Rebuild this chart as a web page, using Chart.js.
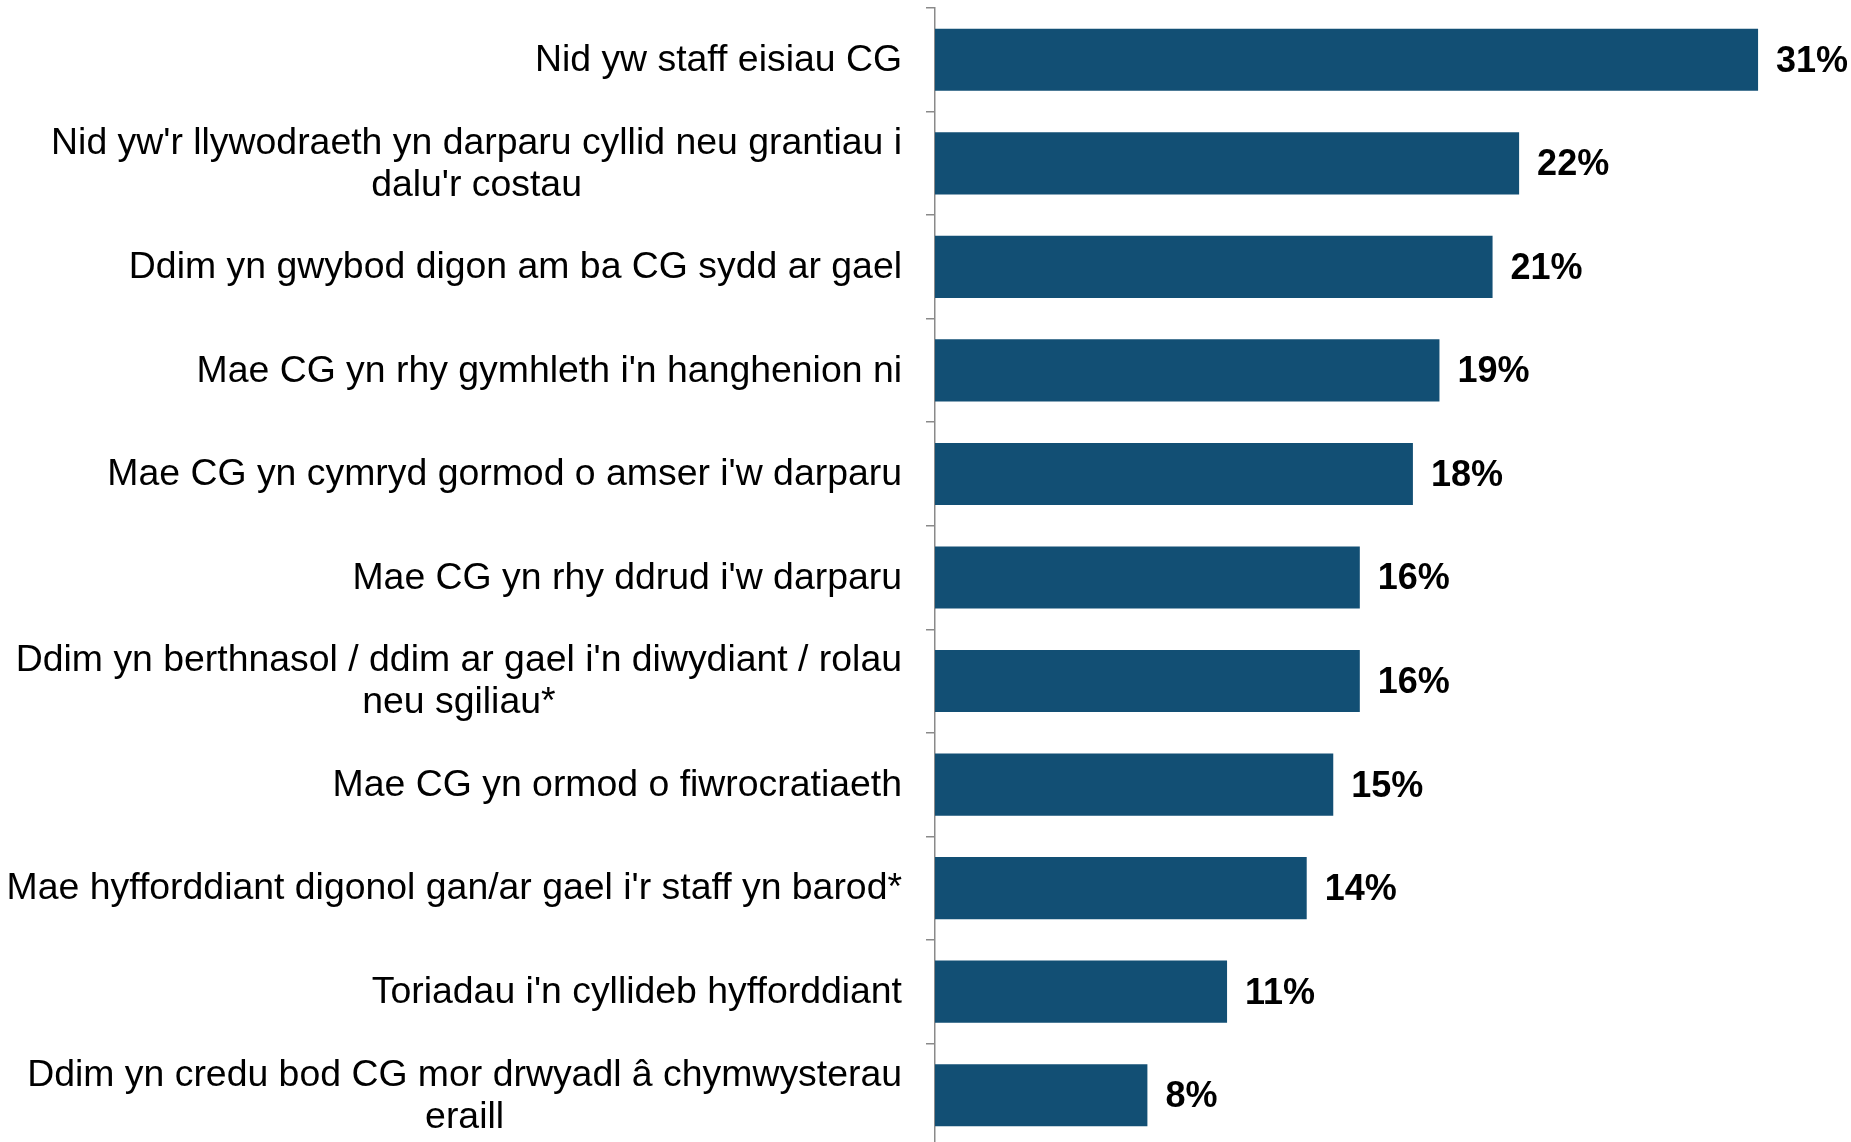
<!DOCTYPE html>
<html>
<head>
<meta charset="utf-8">
<script src="https://cdn.jsdelivr.net/npm/chart.js@4"></script>
<style>
  html, body { margin: 0; padding: 0; background: #fff; overflow: hidden; }
  #wrap { width: 1851px; height: 1147px; position: relative; }
</style>
</head>
<body>
<div id="wrap"><canvas id="c"></canvas></div>
<script>
const categories = [
  "Nid yw staff eisiau CG",
  ["Nid yw'r llywodraeth yn darparu cyllid neu grantiau i", "dalu'r costau"],
  "Ddim yn gwybod digon am ba CG sydd ar gael",
  "Mae CG yn rhy gymhleth i'n hanghenion ni",
  "Mae CG yn cymryd gormod o amser i'w darparu",
  "Mae CG yn rhy ddrud i'w darparu",
  ["Ddim yn berthnasol / ddim ar gael i'n diwydiant / rolau", "neu sgiliau*"],
  "Mae CG yn ormod o fiwrocratiaeth",
  "Mae hyfforddiant digonol gan/ar gael i'r staff yn barod*",
  "Toriadau i'n cyllideb hyfforddiant",
  ["Ddim yn credu bod CG mor drwyadl â chymwysterau", "eraill"]
];
const values = [31, 22, 21, 19, 18, 16, 16, 15, 14, 11, 8];
const valueLabels = values.map(v => v + "%");

const FONT = "'Liberation Sans', Arial, sans-serif";

const labelPlugin = {
  id: 'labelPlugin',
  afterDraw(chart) {
    const ctx = chart.ctx;
    const yScale = chart.scales.y;
    ctx.save();
    ctx.fillStyle = '#000';
    ctx.textBaseline = 'middle';
    ctx.font = "37.4px " + FONT;
    const rightEdge = yScale.right - 33;
    const lineH = 42;
    categories.forEach((lab, i) => {
      const lines = Array.isArray(lab) ? lab : [lab];
      const w = Math.max(...lines.map(l => ctx.measureText(l).width));
      const cx = rightEdge - w / 2;
      const cy = yScale.getPixelForTick(i);
      ctx.textAlign = 'center';
      lines.forEach((l, j) => {
        ctx.fillText(l, cx, cy + (j - (lines.length - 1) / 2) * lineH + 1);
      });
    });
    ctx.font = "bold 36px " + FONT;
    ctx.textAlign = 'left';
    const meta = chart.getDatasetMeta(0);
    meta.data.forEach((bar, i) => {
      ctx.fillText(valueLabels[i], bar.x + 18, bar.y + 2);
    });
    ctx.restore();
  }
};

new Chart(document.getElementById('c'), {
  type: 'bar',
  data: {
    labels: categories,
    datasets: [{
      data: values,
      backgroundColor: '#124f74',
      borderWidth: 0,
      barPercentage: 0.6,
      categoryPercentage: 1.0
    }]
  },
  options: {
    indexAxis: 'y',
    responsive: true,
    maintainAspectRatio: false,
    animation: false,
    layout: { padding: { top: 8, right: 0, bottom: 0, left: 0 } },
    plugins: {
      legend: { display: false },
      tooltip: { enabled: false }
    },
    scales: {
      x: {
        display: false,
        min: 0,
        max: 34.5
      },
      y: {
        offset: true,
        afterFit(scale) { scale.width = 935; },
        ticks: { display: false },
        grid: {
          offset: true,
          drawOnChartArea: false,
          drawTicks: true,
          tickLength: 9,
          color: '#8a8a8a',
          lineWidth: 1.5
        },
        border: { display: true, color: '#8a8a8a', width: 1.5 }
      }
    }
  },
  plugins: [labelPlugin]
});
</script>
</body>
</html>
